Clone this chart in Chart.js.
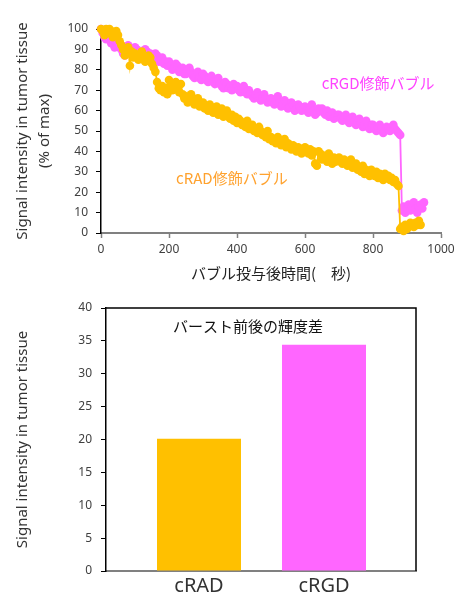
<!DOCTYPE html>
<html>
<head>
<meta charset="utf-8">
<script src="https://cdn.jsdelivr.net/npm/chart.js@4/dist/chart.umd.min.js"></script>
<style>
  html, body { margin: 0; padding: 0; background: #ffffff; }
  #wrap { width: 459px; height: 598px; overflow: hidden; }
  canvas { display: block; }
</style>
</head>
<body>
<div id="wrap">
  <canvas id="timeChart" width="459" height="290"></canvas>
  <canvas id="barChart" width="459" height="308"></canvas>
</div>
<script>
// ---- time course after bubble injection (seconds), one frame every 5 s ----
const timesSec = [
  0, 5, 10, 15, 20, 25, 30, 35, 40, 45, 50, 55, 60, 65, 70, 75, 80, 85, 90, 95,
  100, 105, 110, 115, 120, 125, 130, 135, 140, 145, 150, 155, 160, 165, 170, 175, 180, 185, 190, 195,
  200, 205, 210, 215, 220, 225, 230, 235, 240, 245, 250, 255, 260, 265, 270, 275, 280, 285, 290, 295,
  300, 305, 310, 315, 320, 325, 330, 335, 340, 345, 350, 355, 360, 365, 370, 375, 380, 385, 390, 395,
  400, 405, 410, 415, 420, 425, 430, 435, 440, 445, 450, 455, 460, 465, 470, 475, 480, 485, 490, 495,
  500, 505, 510, 515, 520, 525, 530, 535, 540, 545, 550, 555, 560, 565, 570, 575, 580, 585, 590, 595,
  600, 605, 610, 615, 620, 625, 630, 635, 640, 645, 650, 655, 660, 665, 670, 675, 680, 685, 690, 695,
  700, 705, 710, 715, 720, 725, 730, 735, 740, 745, 750, 755, 760, 765, 770, 775, 780, 785, 790, 795,
  800, 805, 810, 815, 820, 825, 830, 835, 840, 845, 850, 855, 860, 865, 870, 875, 880, 885, 890, 895,
  900, 905, 910, 915, 920, 925, 930, 935, 940, 945, 950
];

// signal intensity (% of max), cRGD-modified bubbles
const crgdSignal = [
  100, 98, 96, 95, 99, 97, 93, 95, 91, 92, 94, 91, 90, 88, 87, 89, 92, 91, 89, 90,
  91, 90, 88, 89, 86, 88, 90, 89, 87, 88, 85, 86, 88, 87, 84, 85, 86, 83, 84, 82,
  84, 82, 80, 81, 83, 82, 79, 80, 81, 78, 78, 80, 81, 79, 77, 76, 78, 79, 76, 75,
  78, 77, 75, 74, 76, 77, 74, 73, 75, 76, 73, 72, 71, 74, 73, 71, 72, 70, 73, 71,
  72, 70, 69, 71, 72, 69, 68, 70, 68, 67, 66, 68, 69, 67, 65, 66, 68, 66, 64, 65,
  66, 64, 63, 65, 67, 64, 62, 63, 65, 64, 61, 62, 64, 63, 60, 61, 63, 62, 60, 61,
  62, 60, 59, 61, 63, 60, 58, 59, 61, 60, 61, 59, 58, 60, 57, 58, 59, 56, 57, 58,
  58, 56, 55, 57, 58, 55, 54, 56, 57, 55, 53, 54, 56, 54, 52, 53, 55, 52, 51, 53,
  53, 51, 50, 52, 53, 51, 49, 50, 52, 51, 50, 52, 53, 51, 50, 49, 48, 11, 13, 10,
  12, 14, 11, 13, 15, 12, 10, 13, 14, 12, 15
];

// signal intensity (% of max), cRAD-modified bubbles
const cradSignal = [
  100, 99, 97, 100, 98, 100, 99, 96, 98, 99, 97, 94, 92, 90, 87, 88, 91, 82, 89, 86,
  88, 86, 85, 87, 89, 86, 84, 85, 87, 86, 83, 81, 79, 74, 71, 70, 72, 69, 71, 68,
  75, 73, 70, 72, 74, 71, 69, 73, 68, 66, 67, 64, 65, 68, 66, 63, 64, 66, 62, 63,
  64, 61, 62, 60, 63, 61, 59, 60, 62, 58, 59, 61, 57, 58, 60, 57, 56, 58, 55, 57,
  54, 56, 55, 53, 54, 52, 55, 51, 52, 53, 50, 51, 49, 52, 50, 48, 49, 47, 50, 46,
  47, 45, 46, 44, 47, 45, 43, 44, 46, 42, 44, 43, 41, 43, 42, 40, 42, 41, 39, 41,
  42, 40, 39, 41, 38, 40, 34, 33, 40, 39, 36, 38, 37, 35, 39, 36, 34, 37, 35, 36,
  37, 35, 34, 36, 35, 33, 34, 36, 32, 33, 34, 31, 32, 30, 33, 29, 31, 30, 28, 31,
  29, 28, 30, 27, 29, 28, 26, 29, 27, 28, 26, 27, 25, 26, 24, 23, 2, 3, 1, 4,
  2, 3, 5, 4, 3, 5, 4, 6, 4
];

const timeTicks = [0, 200, 400, 600, 800, 1000];
const signalTicks = [0, 10, 20, 30, 40, 50, 60, 70, 80, 90, 100];

// ---- brightness difference before / after burst ----
const groups = ['cRAD', 'cRGD'];
const burstDiff = [20.1, 34.4];
const diffTicks = [0, 5, 10, 15, 20, 25, 30, 35, 40];

const COLOR_RAD = '#FFC000';
const COLOR_RGD = '#FF66FF';
const LATIN = "'Noto Sans', 'DejaVu Sans', sans-serif";
const CJK = "'Noto Sans CJK JP', 'Noto Sans', sans-serif";

function pairs(xs, ys) {
  return ys.map((y, i) => ({ x: xs[i], y: y }));
}

// text labels placed in data coordinates
const seriesLabels = {
  id: 'seriesLabels',
  afterDatasetsDraw(chart, args, opts) {
    const { ctx, scales: { x, y } } = chart;
    ctx.save();
    ctx.font = '15px ' + CJK;
    ctx.textAlign = 'center';
    ctx.textBaseline = 'middle';
    (opts.items || []).forEach(it => {
      ctx.fillStyle = it.color;
      ctx.fillText(it.text, x.getPixelForValue(it.x), y.getPixelForValue(it.y));
    });
    ctx.restore();
  }
};

function seriesStyle(color) {
  return {
    showLine: true,
    borderColor: color,
    backgroundColor: color,
    borderWidth: 1.8,
    pointRadius: 4.3,
    pointBorderWidth: 0,
    pointHoverRadius: 4.3,
    clip: false
  };
}

new Chart(document.getElementById('timeChart'), {
  type: 'scatter',
  data: {
    datasets: [
      Object.assign({ label: 'cRAD修飾バブル', data: pairs(timesSec, cradSignal) }, seriesStyle(COLOR_RAD)),
      Object.assign({ label: 'cRGD修飾バブル', data: pairs(timesSec, crgdSignal) }, seriesStyle(COLOR_RGD))
    ]
  },
  options: {
    responsive: false,
    animation: false,
    events: [],
    layout: { padding: { top: 29, right: 18, left: 0, bottom: 0 } },
    plugins: {
      legend: { display: false },
      tooltip: { enabled: false },
      seriesLabels: {
        items: [
          { text: 'cRGD修飾バブル', x: 815, y: 73.5, color: '#FF44FF' },
          { text: 'cRAD修飾バブル', x: 385, y: 27, color: '#FFA22E' }
        ]
      }
    },
    scales: {
      x: {
        type: 'linear',
        min: 0,
        max: 1000,
        afterBuildTicks: s => { s.ticks = timeTicks.map(v => ({ value: v })); },
        afterFit: s => { s.height = 57; },
        grid: { drawOnChartArea: false, drawTicks: true, tickLength: 5, tickColor: '#808080', tickWidth: 1.5 },
        border: { color: '#808080', width: 2 },
        ticks: {
          color: '#404040', font: { family: LATIN, size: 12 }, padding: 4, maxRotation: 0,
          callback: v => String(v)
        },
        title: {
          display: true,
          text: 'バブル投与後時間(　秒)',
          color: '#222',
          font: { family: CJK, size: 15 },
          padding: { top: 0, bottom: 8 }
        }
      },
      y: {
        min: 0,
        max: 100,
        afterBuildTicks: s => { s.ticks = signalTicks.map(v => ({ value: v })); },
        afterFit: s => { s.width = 101; },
        grid: { drawOnChartArea: false, drawTicks: true, tickLength: 5, tickColor: '#000', tickWidth: 1 },
        border: { color: '#000', width: 1.5 },
        ticks: { color: '#404040', font: { family: LATIN, size: 12 }, padding: 8 },
        title: {
          display: true,
          text: ['Signal intensity in tumor tissue', '(% of max)'],
          color: '#333',
          font: { family: LATIN, size: 15, lineHeight: 1.45 },
          padding: { top: 12, bottom: 0 }
        }
      }
    }
  },
  plugins: [seriesLabels]
});

// frame along top and right of the bar plot, plus caption
const plotFrame = {
  id: 'plotFrame',
  beforeDatasetsDraw(chart, args, opts) {
    const { ctx, chartArea: a } = chart;
    ctx.save();
    ctx.strokeStyle = '#000';
    ctx.lineWidth = 1.5;
    ctx.beginPath();
    ctx.moveTo(a.left, a.top);
    ctx.lineTo(a.right, a.top);
    ctx.lineTo(a.right, a.bottom);
    ctx.stroke();
    ctx.fillStyle = '#111';
    ctx.font = '15px ' + CJK;
    ctx.textAlign = 'left';
    ctx.textBaseline = 'middle';
    ctx.fillText(opts.caption, a.left + 67, a.top + 18);
    ctx.restore();
  }
};

new Chart(document.getElementById('barChart'), {
  type: 'bar',
  data: {
    datasets: [{
      label: 'バースト前後の輝度差',
      data: burstDiff.map((v, i) => ({ x: i + 1, y: v })),
      backgroundColor: [COLOR_RAD, COLOR_RGD],
      borderWidth: 0,
      categoryPercentage: 1,
      barPercentage: 0.672
    }]
  },
  options: {
    responsive: false,
    animation: false,
    events: [],
    layout: { padding: { top: 18, right: 43, left: 0, bottom: 0 } },
    plugins: {
      legend: { display: false },
      tooltip: { enabled: false },
      plotFrame: { caption: 'バースト前後の輝度差' }
    },
    scales: {
      x: {
        type: 'linear',
        offset: false,
        min: 0.256,
        max: 2.736,
        afterBuildTicks: s => { s.ticks = groups.map((g, i) => ({ value: i + 1 })); },
        afterFit: s => { s.height = 27; },
        grid: { display: false, drawTicks: false, offset: false },
        border: { color: '#808080', width: 2 },
        ticks: {
          color: '#333',
          font: { family: LATIN, size: 20 },
          padding: 3,
          maxRotation: 0,
          callback: v => groups[v - 1]
        }
      },
      y: {
        min: 0,
        max: 40,
        afterBuildTicks: s => { s.ticks = diffTicks.map(v => ({ value: v })); },
        afterFit: s => { s.width = 106; },
        grid: { drawOnChartArea: false, drawTicks: true, tickLength: 5, tickColor: '#000', tickWidth: 1 },
        border: { color: '#000', width: 1.5 },
        ticks: { color: '#404040', font: { family: LATIN, size: 12 }, padding: 9 },
        title: {
          display: true,
          text: 'Signal intensity in tumor tissue',
          color: '#333',
          font: { family: LATIN, size: 15, lineHeight: 1.45 },
          padding: { top: 12, bottom: 0 }
        }
      }
    }
  },
  plugins: [plotFrame]
});
</script>
</body>
</html>
